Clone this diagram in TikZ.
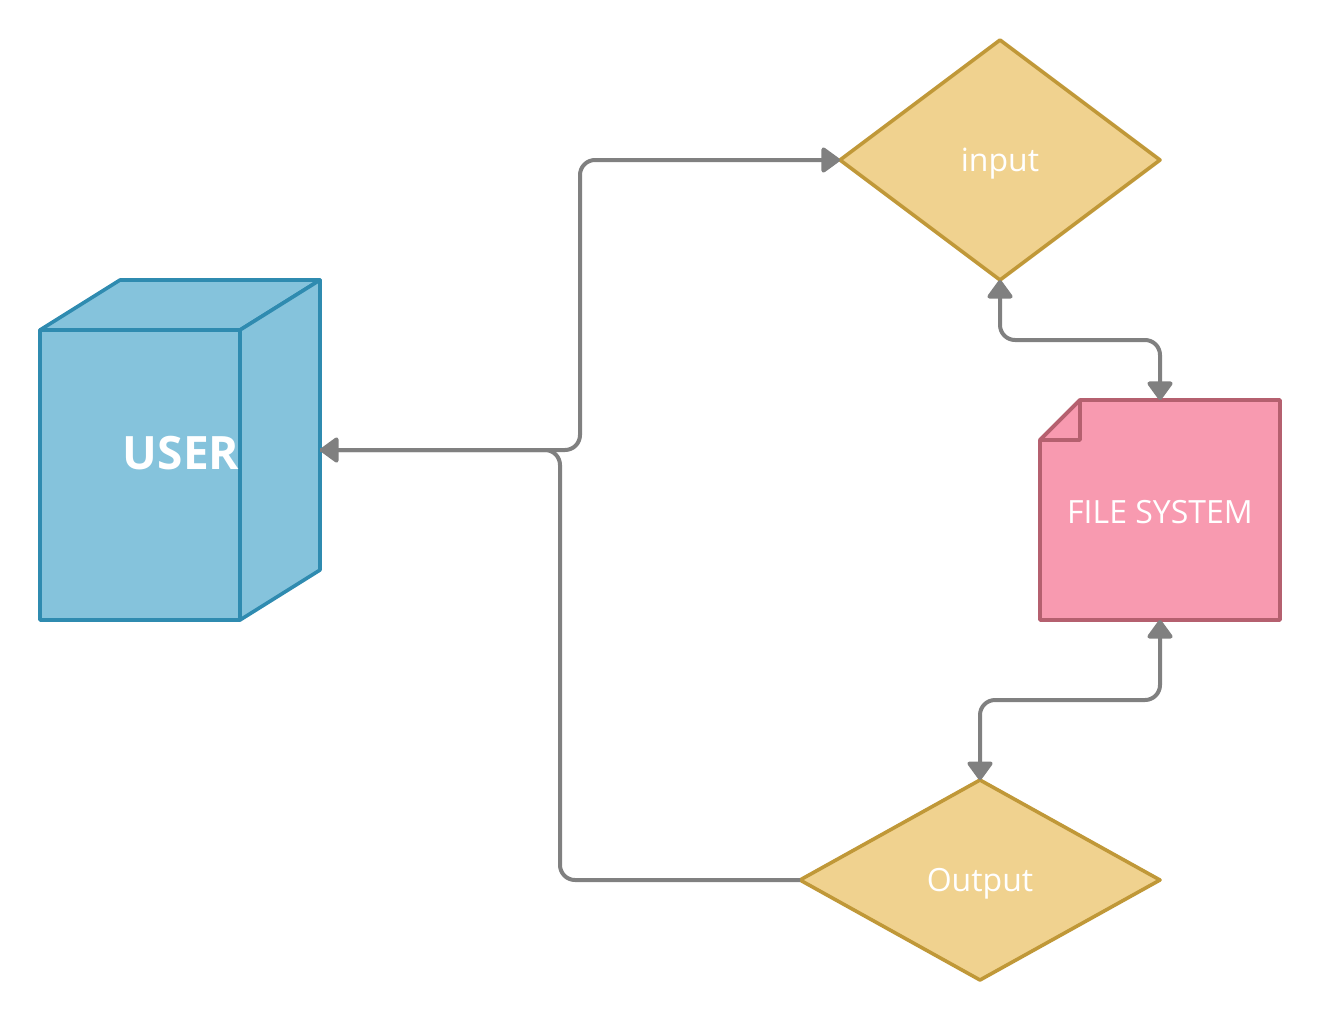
\documentclass[tikz,border=0pt]{standalone}
\usepackage{fontspec}
\setmainfont{Open Sans}
\usetikzlibrary{arrows.meta}
\definecolor{cubefill}{HTML}{85C3DC}
\definecolor{cubeline}{HTML}{2F8BB0}
\definecolor{docfill}{HTML}{F89AB0}
\definecolor{docline}{HTML}{B5606F}
\definecolor{dfill}{HTML}{F0D28F}
\definecolor{dline}{HTML}{C09838}
\definecolor{conn}{HTML}{808080}
\begin{document}
\begin{tikzpicture}[x=1pt,y=-1pt,line join=round]
\tikzset{
  cube/.style={fill=cubefill,draw=cubeline,line width=3.6pt},
  doc/.style={fill=docfill,draw=docline,line width=3.6pt},
  dia/.style={fill=dfill,draw=dline,line width=3.6pt},
  lbl/.style={text=white,font=\fontsize{32}{38}\selectfont,inner sep=0pt},
  tip/.tip={Triangle[length=20pt,width=28pt,round]},
  link/.style={draw=conn,line width=4pt,rounded corners=15pt},
}
\useasboundingbox (0,0) rectangle (1320,1021);
% cube
\path[cube] (40,330) rectangle (240,620);
\path[cube] (40,330) -- (120,280) -- (320,280) -- (240,330) -- cycle;
\path[cube] (240,330) -- (320,280) -- (320,570) -- (240,620) -- cycle;
\node[text=white,font=\bfseries\fontsize{46}{56}\selectfont,inner sep=0pt] (user) at (181,453) {USER};
% input diamond
\path[dia] (840,160) -- (1000,40) -- (1160,160) -- (1000,280) -- cycle;
\node[lbl] (input) at (1000,164) {input};
% output diamond
\path[dia] (800,880) -- (980,780) -- (1160,880) -- (980,980) -- cycle;
\node[lbl] (output) at (980,884) {Output};
% file system document
\path[doc] (1080,400) -- (1280,400) -- (1280,620) -- (1040,620) -- (1040,440) -- cycle;
\path[doc] (1080,400) -- (1080,440) -- (1040,440) -- cycle;
\node[lbl] (fs) at (1160,512) {FILE SYSTEM};
% anchors
\coordinate (userR) at (320,450);
\coordinate (inL) at (840,160);
\coordinate (inB) at (1000,280);
\coordinate (fsT) at (1160,400);
\coordinate (fsB) at (1160,620);
\coordinate (outT) at (980,780);
\coordinate (outL) at (800,880);
% connectors
\draw[link,-tip] (userR) -- ++(260,0) |- (inL);
\draw[link,-tip] (outL) -- ++(-240,0) |- (userR);
\draw[link,tip-tip] (inB) -- ++(0,60) -| (fsT);
\draw[link,tip-tip] (fsB) -- ++(0,80) -| (outT);
\end{tikzpicture}
\end{document}
